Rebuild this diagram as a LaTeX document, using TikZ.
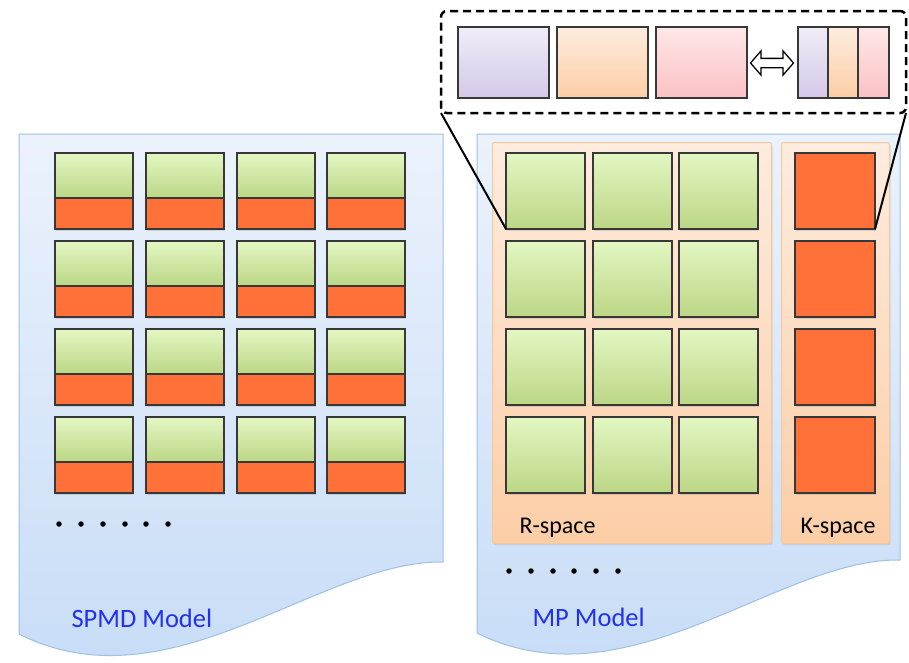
\documentclass[tikz,border=0pt]{standalone}
\usepackage{fontspec}
\setmainfont{Carlito}
\usetikzlibrary{shapes.arrows,shadows}

\definecolor{docline}{HTML}{9DC0E4}
\definecolor{doctop}{HTML}{EBF2FC}
\definecolor{docbot}{HTML}{C5DBF6}
\definecolor{tileline}{HTML}{383838}
\definecolor{greentop}{HTML}{E3F6C2}
\definecolor{greenbot}{HTML}{BCD786}
\definecolor{cellorange}{HTML}{FF7138}
\definecolor{spaceline}{HTML}{F7C79E}
\definecolor{spacetop}{HTML}{FDECDF}
\definecolor{spacebot}{HTML}{FCCEA6}
\definecolor{modelblue}{HTML}{2230F0}
\definecolor{purptop}{HTML}{F0ECF7}
\definecolor{purpbot}{HTML}{D4C9E8}
\definecolor{pinktop}{HTML}{FEE7E8}
\definecolor{pinkbot}{HTML}{FBC1C4}

\tikzset{
  doc/.style={draw=docline, line width=1pt, top color=doctop, bottom color=docbot},
  cell/.style={draw=tileline, line width=1.2pt, anchor=north west, inner sep=0pt,
    outer sep=0pt, drop shadow={opacity=0.25, shadow xshift=1pt, shadow yshift=-1.5pt}},
  gtop/.style={cell, top color=greentop, bottom color=greenbot,
    minimum width=78pt, minimum height=45pt},
  obot/.style={cell, fill=cellorange, minimum width=78pt, minimum height=31pt},
  gtile/.style={cell, top color=greentop, bottom color=greenbot,
    minimum width=79pt, minimum height=76pt},
  ktile/.style={cell, fill=cellorange, minimum width=80pt, minimum height=76pt},
  spacebox/.style={draw=spaceline, line width=1pt, rounded corners=2pt,
    top color=spacetop, bottom color=spacebot, anchor=north west, inner sep=0pt,
    minimum height=401pt, drop shadow={opacity=0.2, shadow xshift=1pt, shadow yshift=-1.5pt}},
  part/.style={draw=tileline, line width=1.2pt, anchor=north west, inner sep=0pt,
    outer sep=0pt, minimum height=71pt},
  dot/.style={circle, fill=black, inner sep=0pt, minimum size=5.5pt},
  model/.style={anchor=base west, text=modelblue, font=\fontsize{26.5}{30}\selectfont},
  space/.style={anchor=base west, font=\fontsize{24}{28}\selectfont},
  darrow/.style={double arrow, draw=black, fill=white, line width=1.3pt,
    inner xsep=0pt, inner ysep=4pt, minimum height=43pt,
    double arrow head extend=7.5pt, double arrow tip angle=98}
}

\begin{document}
\begin{tikzpicture}[x=1pt,y=-1pt]
  \useasboundingbox (0,0) rectangle (909,662);
  % the two documents
  \draw[doc] (19,134) -- (443,134) -- (443,562)
    .. controls (320,560) and (170,710) .. (19,634) -- cycle;
  \draw[doc] (477,134) -- (900,134) -- (900,560)
    .. controls (778,558) and (628,708) .. (477,633) -- cycle;

  % SPMD model
  \draw
    (55,153) node[gtop] (g11){}
    (146,153) node[gtop] (g12){}
    (237,153) node[gtop] (g13){}
    (327,153) node[gtop] (g14){}
    (55,241) node[gtop] (g21){}
    (146,241) node[gtop] (g22){}
    (237,241) node[gtop] (g23){}
    (327,241) node[gtop] (g24){}
    (55,329) node[gtop] (g31){}
    (146,329) node[gtop] (g32){}
    (237,329) node[gtop] (g33){}
    (327,329) node[gtop] (g34){}
    (55,417) node[gtop] (g41){}
    (146,417) node[gtop] (g42){}
    (237,417) node[gtop] (g43){}
    (327,417) node[gtop] (g44){};
  \draw
    (55,198) node[obot] (o11){}
    (146,198) node[obot] (o12){}
    (237,198) node[obot] (o13){}
    (327,198) node[obot] (o14){}
    (55,286) node[obot] (o21){}
    (146,286) node[obot] (o22){}
    (237,286) node[obot] (o23){}
    (327,286) node[obot] (o24){}
    (55,374) node[obot] (o31){}
    (146,374) node[obot] (o32){}
    (237,374) node[obot] (o33){}
    (327,374) node[obot] (o34){}
    (55,462) node[obot] (o41){}
    (146,462) node[obot] (o42){}
    (237,462) node[obot] (o43){}
    (327,462) node[obot] (o44){};
  \draw
    (59,524) node[dot] (sd1){}
    (81,524) node[dot] (sd2){}
    (103,524) node[dot] (sd3){}
    (125,524) node[dot] (sd4){}
    (146,524) node[dot] (sd5){}
    (168,524) node[dot] (sd6){};
  \node[model] (spmd) at (68,627) {SPMD Model};

  % MP model
  \node[spacebox, minimum width=279pt] (rspace) at (492,142) {};
  \node[spacebox, minimum width=108pt] (kspace) at (781,142) {};
  \draw
    (506,153) node[gtile] (m11){}
    (593,153) node[gtile] (m12){}
    (679,153) node[gtile] (m13){}
    (506,241) node[gtile] (m21){}
    (593,241) node[gtile] (m22){}
    (679,241) node[gtile] (m23){}
    (506,329) node[gtile] (m31){}
    (593,329) node[gtile] (m32){}
    (679,329) node[gtile] (m33){}
    (506,417) node[gtile] (m41){}
    (593,417) node[gtile] (m42){}
    (679,417) node[gtile] (m43){};
  \draw
    (795,153) node[ktile] (k1){}
    (795,241) node[ktile] (k2){}
    (795,329) node[ktile] (k3){}
    (795,417) node[ktile] (k4){};
  \node[space] (rlabel) at (516,533) {R-space};
  \node[space] (klabel) at (797,533) {K-space};
  \draw
    (509,571) node[dot] (md1){}
    (531,571) node[dot] (md2){}
    (553,571) node[dot] (md3){}
    (574,571) node[dot] (md4){}
    (596,571) node[dot] (md5){}
    (618,571) node[dot] (md6){};
  \node[model] (mp) at (529,626) {MP Model};

  % zoomed view of one tile
  \node[draw=black, line width=2.5pt, dash pattern=on 8pt off 5pt, rounded corners=6pt,
    anchor=north west, inner sep=0pt, outer sep=0pt,
    minimum width=465pt, minimum height=102pt] (zoom) at (441,11) {};
  \draw
    (458,27) node[part, minimum width=91pt, top color=purptop, bottom color=purpbot] (pa){}
    (557,27) node[part, minimum width=91pt, top color=spacetop, bottom color=spacebot] (pb){}
    (656,27) node[part, minimum width=91pt, top color=pinktop, bottom color=pinkbot] (pc){}
    (798,27) node[part, minimum width=30pt, top color=purptop, bottom color=purpbot] (qa){}
    (828,27) node[part, minimum width=30pt, top color=spacetop, bottom color=spacebot] (qb){}
    (858,27) node[part, minimum width=31pt, top color=pinktop, bottom color=pinkbot] (qc){};
  \node[darrow] (swap) at (772,63) {};
  \begin{scope}[line width=2pt]
    \draw (zoom.south west) to (m11.south west);
    \draw (zoom.south east) to (k1.south east);
  \end{scope}
\end{tikzpicture}
\end{document}
